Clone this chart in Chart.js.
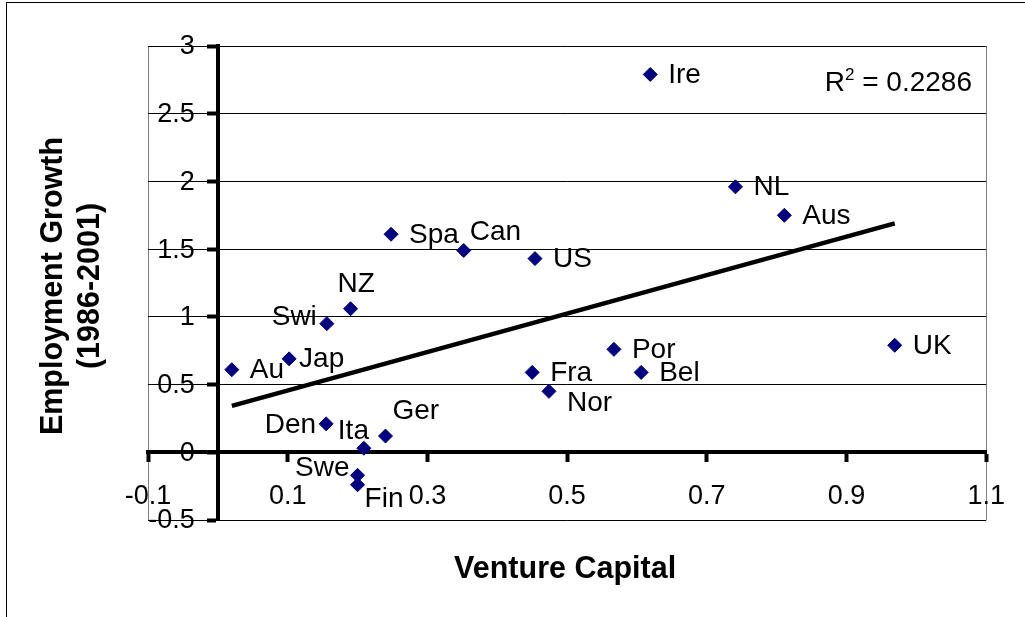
<!DOCTYPE html>
<html>
<head>
<meta charset="utf-8">
<script src="https://cdn.jsdelivr.net/npm/chart.js@4.4.1/dist/chart.umd.min.js"></script>
<style>
  html, body { margin: 0; padding: 0; background: #fff; }
  #wrap { width: 1025px; height: 617px; }
</style>
</head>
<body>
<div id="wrap"><canvas id="c" width="1025" height="617"></canvas></div>
<script>
// ---- Data ----
const countries = ['Au','Jap','Swi','NZ','Den','Ita','Ger','Swe','Fin','Spa','Can','US','Ire','NL','Aus','Fra','Nor','Por','Bel','UK'];
const ventureCapital = [0.02, 0.102, 0.156, 0.19, 0.155, 0.209, 0.24, 0.20, 0.20, 0.248, 0.352, 0.454, 0.619, 0.741, 0.811, 0.45, 0.474, 0.567, 0.606, 0.969];
const employmentGrowth = [0.61, 0.69, 0.95, 1.06, 0.21, 0.03, 0.12, -0.17, -0.24, 1.61, 1.49, 1.43, 2.79, 1.96, 1.75, 0.59, 0.45, 0.76, 0.59, 0.79];
const trendX = [0.02, 0.969];
const trendY = [0.343, 1.69];
const xTickValues = [-0.1, 0.1, 0.3, 0.5, 0.7, 0.9, 1.1];
const xTickLabels = ['-0.1', '0.1', '0.3', '0.5', '0.7', '0.9', '1.1'];
const yTickValues = [-0.5, 0, 0.5, 1, 1.5, 2, 2.5, 3];
const yTickLabels = ['-0.5', '0', '0.5', '1', '1.5', '2', '2.5', '3'];
const xTitle = 'Venture Capital';
const yTitleLines = ['Employment Growth', '(1986-2001)'];
const rSquaredText = '0.2286';

// ---- Label placement (style, not data) ----
const defaultLabelOffset = [18, 8.5, 'left'];
const labelOffsets = {
  Can: [6, -10, 'left'],
  Nor: [18, 20, 'left'],
  Den: [-10, 9, 'right'],
  Ita: [-26, -9, 'left'],
  Ger: [7, -17, 'left'],
  Swe: [-8, 1, 'right'],
  Fin: [7, 22, 'left'],
  Swi: [-10, 1, 'right'],
  NZ: [-13, -17, 'left'],
  Jap: [10, 8, 'left']
};

const FAMILY = "'Liberation Sans', Arial, Helvetica, sans-serif";
Chart.defaults.font.family = FAMILY;
Chart.defaults.color = '#000';

const points = countries.map((c, i) => ({ x: ventureCapital[i], y: employmentGrowth[i] }));
const trend = trendX.map((x, i) => ({ x: x, y: trendY[i] }));

const decorPlugin = {
  id: 'decor',
  beforeDraw(chart) {
    const ctx = chart.ctx, a = chart.chartArea;
    ctx.save();
    ctx.fillStyle = '#fff';
    ctx.fillRect(0, 0, chart.width, chart.height);
    ctx.strokeStyle = '#000';
    ctx.lineWidth = 1;
    ctx.strokeRect(6.5, 2.5, 1200, 800);
    ctx.strokeStyle = '#808080';
    ctx.beginPath();
    ctx.moveTo(Math.round(a.left) + 0.5, a.top);
    ctx.lineTo(Math.round(a.left) + 0.5, a.bottom);
    ctx.moveTo(Math.round(a.right) + 0.5, a.top);
    ctx.lineTo(Math.round(a.right) + 0.5, a.bottom);
    ctx.stroke();
    ctx.restore();
  },
  afterDraw(chart) {
    const ctx = chart.ctx, a = chart.chartArea;
    ctx.save();
    ctx.fillStyle = '#000';
    // y tick labels, placed from the library's y scale
    const ys = chart.scales.y, xs = chart.scales.x;
    ctx.font = '27px ' + FAMILY;
    ctx.textAlign = 'right';
    ctx.textBaseline = 'middle';
    const yLabelRight = xs.getPixelForValue(0) - 23;
    ys.ticks.forEach((t, i) => {
      ctx.fillText(yTickLabels[i], yLabelRight, ys.getPixelForValue(t.value) + 1);
    });
    // point labels
    const meta = chart.getDatasetMeta(1);
    ctx.font = '28px ' + FAMILY;
    ctx.textBaseline = 'alphabetic';
    meta.data.forEach((el, i) => {
      const name = countries[i];
      const off = labelOffsets[name] || defaultLabelOffset;
      ctx.textAlign = off[2];
      ctx.fillText(name, el.x + off[0], el.y + off[1]);
    });
    // R^2 annotation
    ctx.textAlign = 'right';
    ctx.font = '28px ' + FAMILY;
    const rest = ' = ' + rSquaredText;
    const rightX = 972, baseY = 91;
    const wRest = ctx.measureText(rest).width;
    ctx.fillText(rest, rightX, baseY);
    ctx.font = '17px ' + FAMILY;
    const wSup = ctx.measureText('2').width;
    ctx.fillText('2', rightX - wRest, baseY - 11);
    ctx.font = '28px ' + FAMILY;
    ctx.fillText('R', rightX - wRest - wSup, baseY);
    // axis titles
    ctx.font = 'bold 30.5px ' + FAMILY;
    ctx.textAlign = 'center';
    ctx.fillText(xTitle, (a.left + a.right) / 2 - 2, 578);
    ctx.translate(0, (a.top + a.bottom) / 2 + 3);
    ctx.rotate(-Math.PI / 2);
    ctx.fillText(yTitleLines[0], 0, 62);
    ctx.fillText(yTitleLines[1], 0, 99);
    ctx.restore();
  }
};

new Chart(document.getElementById('c'), {
  type: 'scatter',
  data: {
    datasets: [
      {
        type: 'line',
        label: 'Linear trend',
        data: trend,
        borderColor: '#000',
        borderWidth: 4.5,
        pointRadius: 0,
        fill: false,
        tension: 0
      },
      {
        label: 'Countries',
        data: points,
        pointStyle: 'rectRot',
        pointRadius: 7,
        pointHoverRadius: 7,
        backgroundColor: '#000080',
        borderColor: '#000080',
        borderWidth: 1
      }
    ]
  },
  options: {
    responsive: false,
    animation: false,
    events: [],
    layout: { padding: { left: 148, top: 46, right: 37, bottom: 97 } },
    plugins: { legend: { display: false }, tooltip: { enabled: false }, title: { display: false } },
    scales: {
      x: {
        type: 'linear',
        position: { y: 0 },
        min: -0.1,
        max: 1.1,
        afterBuildTicks: (s) => { s.ticks = xTickValues.map(v => ({ value: v })); },
        grid: { drawOnChartArea: false, color: '#000', tickLength: 8, tickWidth: 4, tickColor: '#000' },
        border: { display: true, color: '#000', width: 4 },
        ticks: {
          autoSkip: false,
          maxRotation: 0,
          padding: 20,
          font: { size: 27 },
          color: '#000',
          callback: (v, i) => xTickLabels[i]
        }
      },
      y: {
        type: 'linear',
        position: { x: 0 },
        min: -0.5,
        max: 3,
        afterBuildTicks: (s) => { s.ticks = yTickValues.map(v => ({ value: v })); },
        grid: { drawOnChartArea: true, color: '#000', lineWidth: 1, tickLength: 9, tickWidth: 4, tickColor: '#000' },
        border: { display: true, color: '#000', width: 4 },
        ticks: {
          display: false,
          autoSkip: false,
          callback: (v, i) => yTickLabels[i]
        }
      }
    }
  },
  plugins: [decorPlugin]
});
</script>
</body>
</html>
